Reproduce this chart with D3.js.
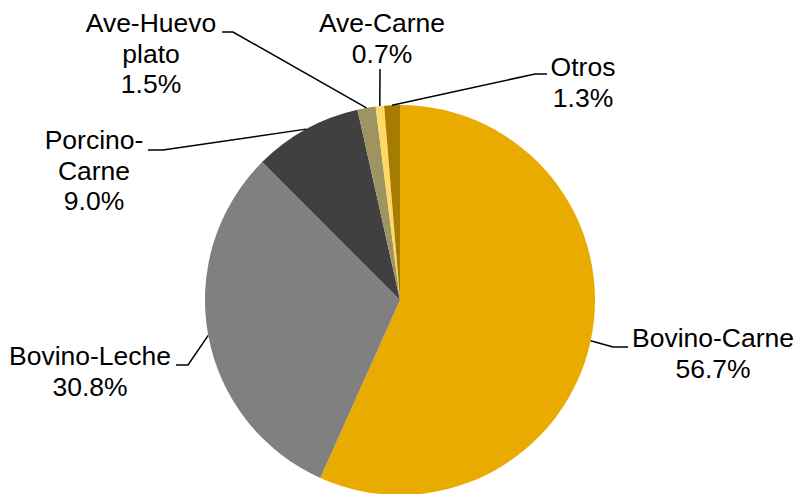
<!DOCTYPE html>
<html>
<head>
<meta charset="utf-8">
<script src="https://cdn.jsdelivr.net/npm/d3@7"></script>
<style>
  html, body { margin: 0; padding: 0; background: #fff; }
  svg { display: block; }
</style>
</head>
<body>
<svg id="chart" width="795" height="494"></svg>
<script>
// ---- data ----
const categories = ["Bovino-Carne", "Bovino-Leche", "Porcino-Carne", "Ave-Huevo plato", "Ave-Carne", "Otros"];
const labelLines = [["Bovino-Carne"], ["Bovino-Leche"], ["Porcino-", "Carne"], ["Ave-Huevo", "plato"], ["Ave-Carne"], ["Otros"]];
const values = [56.7, 30.8, 9.0, 1.5, 0.7, 1.3];
const colors = ["#EAAB00", "#808080", "#404040", "#9E9462", "#FFD966", "#A67C00"];

// ---- layout (label placement) ----
const labelPos = [
  { x: 713, y: 347, elbow: [[613, 347], [628, 347]] },
  { x: 90,  y: 365, elbow: [[188, 365], [176, 365]] },
  { x: 94,  y: 149, elbow: [[163, 150], [148, 150]] },
  { x: 151, y: 32,  elbow: [[233, 32], [222, 32]] },
  { x: 382, y: 32,  elbow: [[380, 69]] },
  { x: 583, y: 76,  elbow: [[535, 74], [547, 74]] }
];

const svg = d3.select("#chart");
const cx = 400, cy = 300, r = 195;
const lineH = 30.5;

const pie = d3.pie().sort(null).value(d => d)(values);
const arc = d3.arc().innerRadius(0).outerRadius(r);

const g = svg.append("g").attr("transform", `translate(${cx},${cy})`);
g.selectAll("path").data(pie).join("path")
  .attr("d", arc)
  .attr("fill", (d, i) => colors[i]);

// leader lines
const pts = pie.map((d, i) => {
  const a = (d.startAngle + d.endAngle) / 2;
  const start = [cx + r * Math.sin(a), cy - r * Math.cos(a)];
  return [start, ...labelPos[i].elbow];
});
svg.selectAll("path.leader").data(pts).join("path")
  .attr("class", "leader")
  .attr("d", d3.line())
  .attr("fill", "none")
  .attr("stroke", "#000")
  .attr("stroke-width", 1.5);

// labels
const labels = svg.selectAll("text.lbl").data(pie).join("text")
  .attr("class", "lbl")
  .attr("text-anchor", "middle")
  .attr("font-family", "'Liberation Sans', Arial, sans-serif")
  .attr("font-size", 26.5)
  .attr("fill", "#000");
labels.each(function(d, i) {
  const t = d3.select(this);
  const lines = [...labelLines[i], d3.format(".1f")(values[i]) + "%"];
  lines.forEach((s, k) => {
    t.append("tspan")
      .attr("x", labelPos[i].x)
      .attr("y", labelPos[i].y + k * lineH)
      .text(s);
  });
});
</script>
</body>
</html>
